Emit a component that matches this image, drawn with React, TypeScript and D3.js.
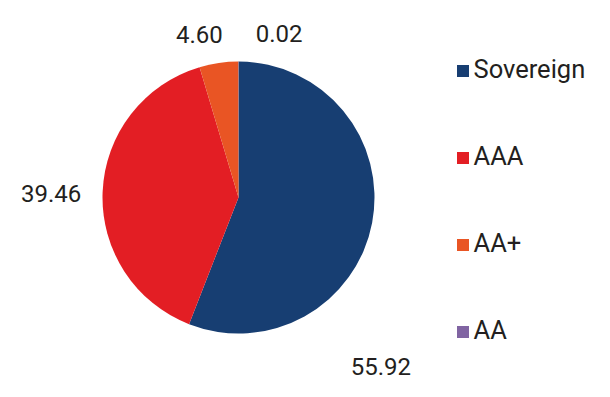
import React from 'react'
import * as d3 from 'd3'

// rating buckets and their share of the portfolio (%)
const categories = ['Sovereign', 'AAA', 'AA+', 'AA']
const values = [55.92, 39.46, 4.6, 0.02]
const valueLabels = ['55.92', '39.46', '4.60', '0.02']
const colors = ['#173e72', '#e31e24', '#e95524', '#8064a2']

const width = 610
const height = 397
const cx = 238.5
const cy = 197.5
const radius = 136

// where each data label sits: angle (deg, clockwise from 12 o'clock) and distance from centre
const labelPlacement: Record<string, { angle: number; dist: number }> = {
  Sovereign: { angle: 139.9, dist: 221 },
  AAA: { angle: 271.2, dist: 187.5 },
  'AA+': { angle: -13.5, dist: 167.6 },
  AA: { angle: 13.9, dist: 169 },
}

const legendX = 457
const legendTop = 78
const legendStep = 87

const App: React.FC = () => {
  const pie = d3.pie<number>().sort(null).value(d => d)
  const arcs = pie(values)
  const arc = d3.arc<d3.PieArcDatum<number>>().innerRadius(0).outerRadius(radius)

  return (
    <svg
      width={width}
      height={height}
      style={{ position: 'absolute', left: 0, top: 0, background: '#fff' }}
      fontFamily="Roboto, sans-serif"
    >
      <g transform={`translate(${cx},${cy})`}>
        {arcs.map((a, i) => (
          <path key={categories[i]} d={arc(a) || ''} fill={colors[i]} />
        ))}
        {arcs.map((a, i) => {
          const p = labelPlacement[categories[i]]
          const t = (p.angle * Math.PI) / 180
          return (
            <text
              key={'l' + i}
              x={Math.sin(t) * p.dist}
              y={-Math.cos(t) * p.dist}
              dy="0.35em"
              textAnchor="middle"
              fontSize={24}
              fill="#231f20"
            >
              {valueLabels[i]}
            </text>
          )
        })}
      </g>
      <g>
        {categories.map((c, i) => (
          <g key={c} transform={`translate(${legendX},${legendTop + i * legendStep})`}>
            <rect x={0} y={-13} width={12} height={12} fill={colors[i]} />
            <text x={16.5} y={0} fontSize={25.5} fill="#231f20">
              {c}
            </text>
          </g>
        ))}
      </g>
    </svg>
  )
}

export default App
